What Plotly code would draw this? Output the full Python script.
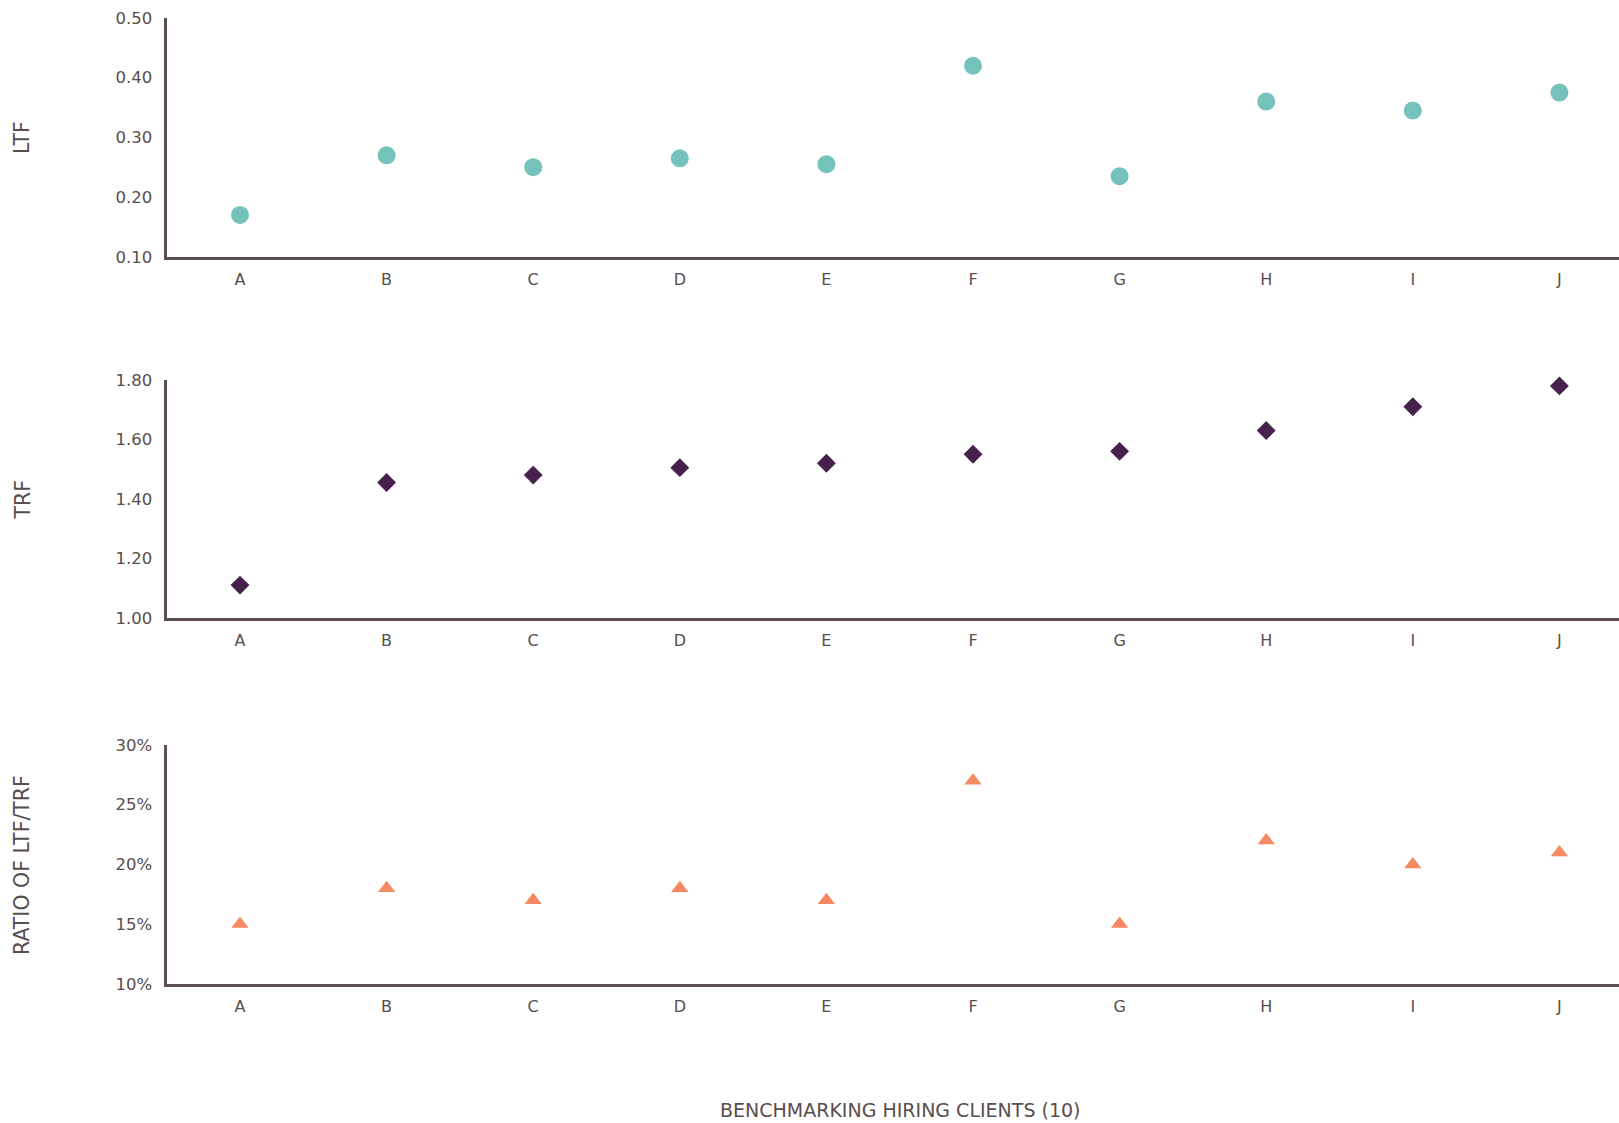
import plotly.graph_objects as go

clients = ["A", "B", "C", "D", "E", "F", "G", "H", "I", "J"]
ltf = [0.17, 0.27, 0.25, 0.265, 0.255, 0.42, 0.235, 0.36, 0.345, 0.375]
trf = [1.11, 1.455, 1.48, 1.505, 1.52, 1.55, 1.56, 1.63, 1.71, 1.78]
ratio_pct = [15, 18, 17, 18, 17, 27, 15, 22, 20, 21]

ltf_ticks = [0.10, 0.20, 0.30, 0.40, 0.50]
trf_ticks = [1.00, 1.20, 1.40, 1.60, 1.80]
ratio_ticks = [10, 15, 20, 25, 30]
ratio_labels = ["10%", "15%", "20%", "25%", "30%"]

W, H = 1619, 1123
TEXT = "#5a4d4d"
AXIS = "#5c4f4f"
FONT = "DejaVu Sans"
LW = 2.5

fig = go.Figure()
fig.add_trace(go.Scatter(x=clients, y=ltf, mode="markers", xaxis="x", yaxis="y",
                         marker=dict(symbol="circle", size=18, color="#74c2bb"),
                         cliponaxis=False, name="LTF", showlegend=False))
fig.add_trace(go.Scatter(x=clients, y=trf, mode="markers", xaxis="x2", yaxis="y2",
                         marker=dict(symbol="diamond", size=14.5, color="#45214b"),
                         cliponaxis=False, name="TRF", showlegend=False))
fig.add_trace(go.Scatter(x=clients, y=ratio_pct, mode="markers", xaxis="x3", yaxis="y3",
                         marker=dict(symbol="triangle-up", size=15, color="#f58a62"),
                         cliponaxis=False, name="Ratio", showlegend=False))

left_px = 166 + LW / 2
x0 = left_px / W
step = 146.6
xr0 = -(240 - left_px) / step
xr1 = xr0 + (W - left_px) / step
panels = [(18, 258), (380, 619), (745, 985)]
doms = [[1 - (b - LW / 2) / H, 1 - t / H] for t, b in panels]

xcommon = dict(
    domain=[x0, 1], range=[xr0, xr1], showline=True, linecolor=AXIS, linewidth=LW,
    showgrid=False, zeroline=False, ticks="", ticklabelstandoff=6,
    tickfont=dict(family=FONT, size=16, color=TEXT), automargin=False,
    categoryorder="array", categoryarray=clients,
)
ycommon = dict(
    showline=True, linecolor=AXIS, linewidth=LW, showgrid=False, zeroline=False,
    ticks="", ticklabelstandoff=9, tickfont=dict(family=FONT, size=16.5, color=TEXT),
    automargin=False,
)

fig.update_layout(
    width=W, height=H, margin=dict(l=0, r=0, t=0, b=0),
    paper_bgcolor="white", plot_bgcolor="white", template="none",
    xaxis=dict(anchor="y", **xcommon),
    xaxis2=dict(anchor="y2", **xcommon),
    xaxis3=dict(anchor="y3", **xcommon),
    yaxis=dict(anchor="x", domain=doms[0], range=[0.10, 0.50], tickvals=ltf_ticks,
               tickformat=".2f", **ycommon),
    yaxis2=dict(anchor="x2", domain=doms[1], range=[1.00, 1.80], tickvals=trf_ticks,
                tickformat=".2f", **ycommon),
    yaxis3=dict(anchor="x3", domain=doms[2], range=[10, 30], tickvals=ratio_ticks,
                ticktext=ratio_labels, **ycommon),
)

titles = ["LTF", "TRF", "RATIO OF LTF/TRF"]
for (t, b), txt in zip(panels, titles):
    fig.add_annotation(text=txt, xref="paper", yref="paper", x=22 / W, y=1 - (t + b) / 2 / H,
                       textangle=-90, showarrow=False, xanchor="center", yanchor="middle",
                       font=dict(family=FONT, size=20.5, color=TEXT))

fig.add_annotation(text="BENCHMARKING HIRING CLIENTS (10)", xref="paper", yref="paper",
                   x=900 / W, y=1 - 1110 / H, showarrow=False, xanchor="center", yanchor="middle",
                   font=dict(family=FONT, size=19, color=TEXT))

fig.write_html("out.html", config={"displayModeBar": False},
               post_script="document.body.style.margin='0';document.body.style.overflow='hidden';")
